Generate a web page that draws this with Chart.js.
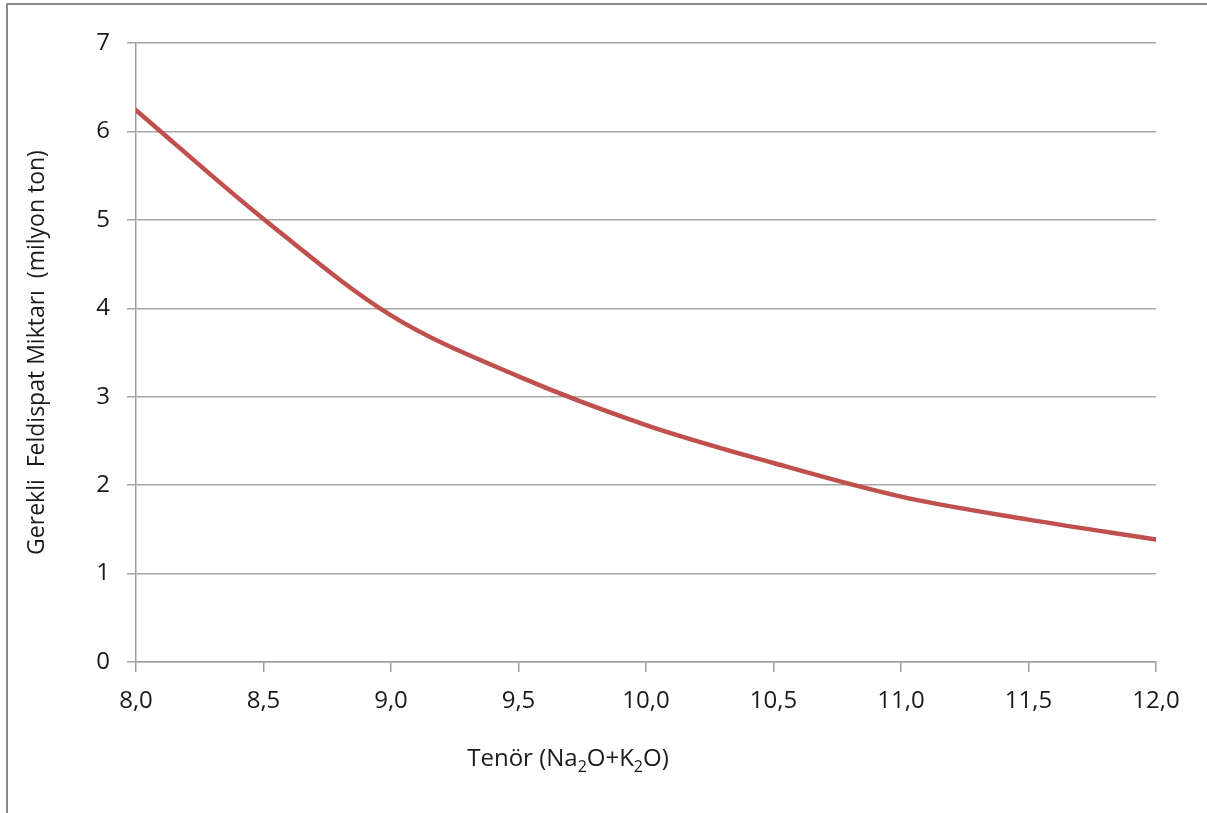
<!DOCTYPE html>
<html>
<head>
<meta charset="utf-8">
<script src="https://cdn.jsdelivr.net/npm/chart.js@4"></script>
<style>
  html, body { margin: 0; padding: 0; background: #fff; }
  #wrap { width: 1207px; height: 813px; }
</style>
</head>
<body>
<div id="wrap"><canvas id="myChart" width="1207" height="813"></canvas></div>
<script>
// values
const tenor = [8.0, 8.5, 9.0, 9.5, 10.0, 10.5, 11.0, 11.5, 12.0];
const feldispat = [6.24, 5.01, 3.92, 3.23, 2.68, 2.25, 1.87, 1.61, 1.385];
const yTitle = 'Gerekli  Feldispat Miktarı  (milyon ton)';
const xTitleParts = [['Tenör (Na', 0], ['2', 1], ['O+K', 0], ['2', 1], ['O)', 0]];

const FONT = '"Open Sans", sans-serif';

// gray frame on top and left of the picture + x title with subscripts
const extras = {
    id: 'extras',
    beforeDraw: (chart) => {
        const c = chart.ctx;
        c.save();
        c.fillStyle = '#8c8c8c';
        c.fillRect(6, 3, 1201, 2);
        c.fillRect(6, 3, 2, 810);
        c.restore();
    },
    afterDraw: (chart) => {
        const c = chart.ctx;
        c.save();
        c.fillStyle = '#1a1a1a';
        c.textBaseline = 'alphabetic';
        const big = '24px ' + FONT, small = '16px ' + FONT;
        let w = 0;
        xTitleParts.forEach(([t, sub]) => {
            c.font = sub ? small : big;
            w += c.measureText(t).width;
        });
        let x = 568 - w / 2;
        const base = 766;
        xTitleParts.forEach(([t, sub]) => {
            c.font = sub ? small : big;
            c.fillText(t, x, sub ? base + 6 : base);
            x += c.measureText(t).width;
        });
        c.restore();
    },
};

const ctx = document.getElementById('myChart').getContext('2d');
const myChart = new Chart(ctx, {
    type: 'scatter',
    data: {
        datasets: [
            {
                data: tenor.map((x, i) => ({ x: x, y: feldispat[i] })),
                showLine: true,
                borderColor: '#c0504d',
                borderWidth: 4.5,
                borderCapStyle: 'round',
                pointRadius: 0,
                cubicInterpolationMode: 'monotone',
            },
        ],
    },
    options: {
        responsive: false,
        animation: false,
        layout: { padding: { top: 43, right: 51, bottom: 0, left: 0 } },
        plugins: { legend: { display: false }, tooltip: { enabled: false } },
        scales: {
            x: {
                type: 'linear',
                min: 8,
                max: 12,
                afterFit: (s) => { s.height = 151; },
                ticks: {
                    stepSize: 0.5,
                    color: '#1a1a1a',
                    font: { family: FONT, size: 24 },
                    padding: 15,
                    maxRotation: 0,
                    callback: (v) => v.toFixed(1).replace('.', ','),
                },
                grid: { drawOnChartArea: false, color: '#a0a0a0', lineWidth: 1.5, tickLength: 10 },
                border: { color: '#a0a0a0', width: 1.5 },
            },
            y: {
                min: 0,
                max: 7,
                afterFit: (s) => { s.width = 136; },
                ticks: {
                    stepSize: 1,
                    color: '#1a1a1a',
                    font: { family: FONT, size: 24 },
                    padding: 17,
                },
                grid: { color: '#a6a6a6', lineWidth: 1.5, tickLength: 9 },
                border: { color: '#a0a0a0', width: 1.5 },
                title: {
                    display: true,
                    text: yTitle,
                    color: '#1a1a1a',
                    font: { family: FONT, size: 23 },
                    padding: { top: 24 },
                },
            },
        },
    },
    plugins: [extras],
});
</script>
</body>
</html>
